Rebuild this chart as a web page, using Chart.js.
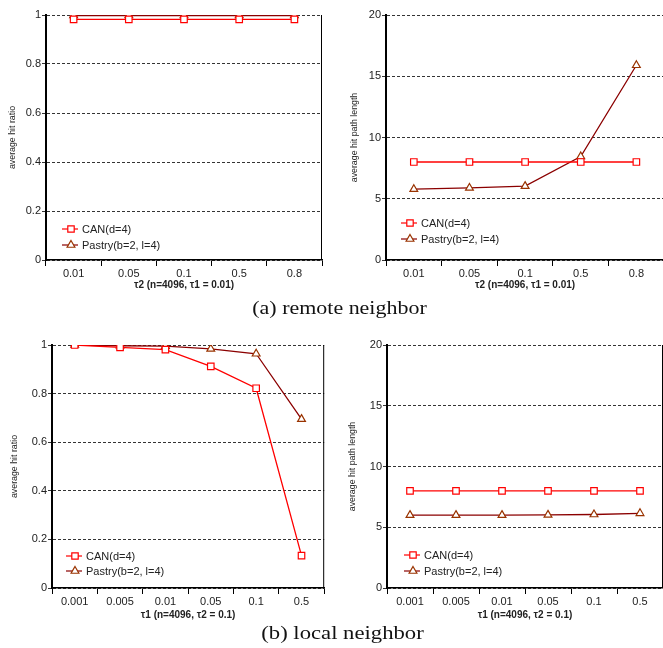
<!DOCTYPE html>
<html>
<head>
<meta charset="utf-8">
<script src="https://cdn.jsdelivr.net/npm/chart.js"></script>
<style>
    body { margin: 0; width: 663px; height: 648px; overflow: hidden; background: #fff; position: relative; }
    .box { position: absolute; }
    .cap { position: absolute; left: 0; width: 663px; text-align: center; font: 18px 'Liberation Serif', 'Times New Roman', serif; line-height: 18px; color: #111; }
</style>
</head>
<body>
<div class="box" style="left:0;top:0;width:330px;height:300px"><canvas id="c1"></canvas></div>
<div class="box" style="left:330px;top:0;width:340px;height:300px"><canvas id="c2"></canvas></div>
<div class="cap" style="top:299px;transform:translateX(8px) scaleX(1.22)">(a) remote neighbor</div>
<div class="box" style="left:0;top:330px;width:330px;height:318px"><canvas id="c3"></canvas></div>
<div class="box" style="left:330px;top:330px;width:340px;height:318px"><canvas id="c4"></canvas></div>
<div class="cap" style="top:624px;transform:translateX(11px) scaleX(1.26)">(b) local neighbor</div>
<script>
// tick labels
const remoteLabels = ["0.01", "0.05", "0.1", "0.5", "0.8"];
const localLabels = ["0.001", "0.005", "0.01", "0.05", "0.1", "0.5"];

// (a) remote neighbor
const remoteRatioCAN = [0.982, 0.982, 0.982, 0.982, 0.982];
const remoteRatioPastry = [0.998, 0.998, 0.998, 0.998, 0.998];
const remotePathCAN = [8, 8, 8, 8, 8];
const remotePathPastry = [5.78, 5.88, 6.03, 8.45, 15.9];

// (b) local neighbor
const localRatioCAN = [1.0, 0.99, 0.981, 0.912, 0.822, 0.133];
const localRatioPastry = [1.0, 0.997, 0.995, 0.984, 0.964, 0.695];
const localPathCAN = [8, 8, 8, 8, 8, 8];
const localPathPastry = [6.0, 6.0, 6.0, 6.02, 6.05, 6.15];

const FONT = "'Liberation Sans', Arial, sans-serif";
const NARROW = "'Liberation Sans Narrow', 'Arial Narrow', 'Liberation Sans', sans-serif";
Chart.defaults.font.family = FONT;
Chart.defaults.color = "#222";

function drawMarker(ctx, style, x, y, color) {
    ctx.save();
    ctx.strokeStyle = color;
    ctx.fillStyle = "#fff";
    ctx.lineWidth = 1.2;
    ctx.beginPath();
    if (style === "rect") {
        ctx.rect(x - 3.2, y - 3.2, 6.4, 6.4);
    } else {
        ctx.moveTo(x, y - 4.5);
        ctx.lineTo(x + 3.9, y + 2.25);
        ctx.lineTo(x - 3.9, y + 2.25);
        ctx.closePath();
    }
    ctx.fill();
    ctx.stroke();
    ctx.restore();
}

// legend drawn inside the plot, lower left
const insideLegend = {
    id: "insideLegend",
    afterDraw(chart, args, opts) {
        const ctx = chart.ctx;
        const a = chart.chartArea;
        chart.data.datasets.forEach(function (ds, i) {
            const x = a.left + opts.dx;
            const y = a.bottom - (i === 0 ? opts.y1 : opts.y2);
            ctx.save();
            ctx.strokeStyle = ds.borderColor;
            ctx.lineWidth = 1.2;
            ctx.beginPath();
            ctx.moveTo(x, y);
            ctx.lineTo(x + 16, y);
            ctx.stroke();
            drawMarker(ctx, ds.pointStyle, x + 9, y, ds.pointBorderColor);
            ctx.fillStyle = "#222";
            ctx.font = "11px " + FONT;
            ctx.textBaseline = "middle";
            ctx.fillText(ds.label, x + 20, y + 0.5);
            ctx.restore();
        });
    }
};

// right frame line
const rightFrame = {
    id: "rightFrame",
    afterDraw(chart) {
        const ctx = chart.ctx;
        const a = chart.chartArea;
        ctx.save();
        ctx.strokeStyle = "#000";
        ctx.lineWidth = 1;
        ctx.beginPath();
        ctx.moveTo(a.right - 0.5, a.top);
        ctx.lineTo(a.right - 0.5, a.bottom);
        ctx.stroke();
        ctx.restore();
    }
};

function renderChart(id, labels, can, pastry, yMax, yStep, yTitle, xTitle, lay) {
    new Chart(document.getElementById(id), {
        type: "line",
        data: {
            labels: labels,
            datasets: [
                {
                    label: "CAN(d=4)",
                    data: can,
                    borderColor: "#ff0000",
                    borderWidth: 1.3,
                    pointStyle: "rect",
                    pointRadius: 4.6,
                    pointBorderColor: "#ff0000",
                    pointBackgroundColor: "#fff",
                    pointBorderWidth: 1.2,
                    fill: false,
                    tension: 0,
                },
                {
                    label: "Pastry(b=2, l=4)",
                    data: pastry,
                    borderColor: "#8b0000",
                    borderWidth: 1.3,
                    pointStyle: "triangle",
                    pointRadius: 4.5,
                    pointBorderColor: "#993300",
                    pointBackgroundColor: "#fff",
                    pointBorderWidth: 1.2,
                    fill: false,
                    tension: 0,
                },
            ],
        },
        options: {
            responsive: true,
            maintainAspectRatio: false,
            animation: false,
            layout: {
                padding: { left: lay.padL, right: lay.padR, top: 15, bottom: lay.padB },
            },
            plugins: {
                legend: { display: false },
                tooltip: { enabled: false },
                insideLegend: lay.legend,
            },
            scales: {
                x: {
                    offset: true,
                    grid: {
                        offset: true,
                        drawOnChartArea: false,
                        drawTicks: true,
                        tickLength: 6,
                        tickColor: "#000",
                    },
                    border: { color: "#000", width: 1.5 },
                    ticks: { font: { size: 11 }, padding: 1, maxRotation: 0, autoSkip: false },
                    title: {
                        display: true,
                        text: xTitle,
                        font: { size: 10, weight: "bold" },
                        padding: { top: 0, bottom: 0 },
                    },
                    afterFit: function (scale) { scale.height = lay.xH; },
                },
                y: {
                    min: 0,
                    max: yMax,
                    ticks: {
                        stepSize: yStep,
                        font: { size: 11 },
                        padding: 1,
                        callback: function (v) { return String(parseFloat(v.toFixed(2))); },
                    },
                    grid: {
                        color: "#000",
                        lineWidth: 0.8,
                        tickLength: 4,
                        tickColor: "#000",
                    },
                    border: { color: "#000", width: 2, dash: [3, 2] },
                    title: {
                        display: true,
                        text: yTitle,
                        font: { size: 8.8, family: NARROW },
                        padding: { top: 0, bottom: 0 },
                    },
                    afterFit: function (scale) { scale.width = lay.yW; },
                },
            },
        },
        plugins: [insideLegend, rightFrame],
    });
}

renderChart("c1", remoteLabels, remoteRatioCAN, remoteRatioPastry, 1, 0.2,
    "average hit ratio", "τ2 (n=4096, τ1 = 0.01)",
    { padL: 7, yW: 39, padR: 8, padB: 9, xH: 31, legend: { dx: 16, y1: 31, y2: 15 } });

renderChart("c2", remoteLabels, remotePathCAN, remotePathPastry, 20, 5,
    "average hit path length", "τ2 (n=4096, τ1 = 0.01)",
    { padL: 19, yW: 37, padR: 5, padB: 9, xH: 31, legend: { dx: 15, y1: 37, y2: 21 } });

renderChart("c3", localLabels, localRatioCAN, localRatioPastry, 1, 0.2,
    "average hit ratio", "τ1 (n=4096, τ2 = 0.1)",
    { padL: 9, yW: 43, padR: 5, padB: 27, xH: 33, legend: { dx: 14, y1: 32, y2: 17 } });

renderChart("c4", localLabels, localPathCAN, localPathPastry, 20, 5,
    "average hit path length", "τ1 (n=4096, τ2 = 0.1)",
    { padL: 17, yW: 40, padR: 7, padB: 27, xH: 33, legend: { dx: 17, y1: 33, y2: 17 } });
</script>
</body>
</html>
